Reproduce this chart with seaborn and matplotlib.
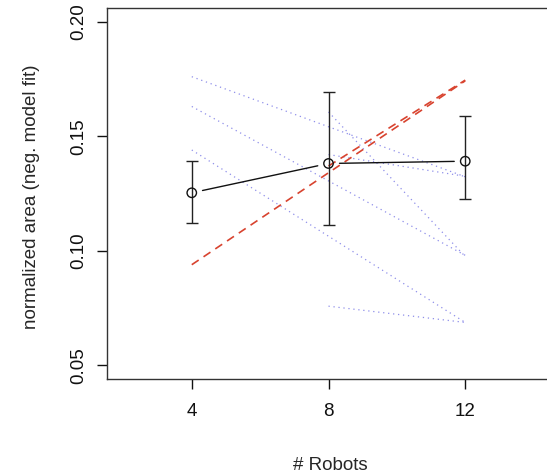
import matplotlib
matplotlib.use("Agg")
import matplotlib.pyplot as plt
import numpy as np
import pandas as pd
import seaborn as sns

# mean area per team size, with error bar limits
robots = [4, 8, 12]
mean_area = [0.1253, 0.1381, 0.1391]
err_low = [0.1120, 0.1112, 0.1226]
err_high = [0.1394, 0.1693, 0.1590]

# individual trend lines (blue dotted)
run_x = [[4, 12], [4, 12], [4, 12], [8, 12], [8, 12], [8, 12]]
run_y = [[0.176, 0.1323], [0.163, 0.098], [0.144, 0.0687],
         [0.1606, 0.0975], [0.142, 0.1325], [0.0758, 0.0687]]

# model fits (red dashed)
fit_x = [[4, 12], [8, 12]]
fit_y = [[0.0939, 0.1742], [0.137, 0.1745]]

sns.set_style("white")
plt.rcParams['font.family'] = ['Liberation Sans', 'DejaVu Sans']

runs = pd.DataFrame([(i, x, y) for i, (xs, ys) in enumerate(zip(run_x, run_y))
                     for x, y in zip(xs, ys)], columns=["run", "robots", "area"])
fits = pd.DataFrame([(i, x, y) for i, (xs, ys) in enumerate(zip(fit_x, fit_y))
                     for x, y in zip(xs, ys)], columns=["fit", "robots", "area"])
means = pd.DataFrame({"robots": robots, "area": mean_area})

fig = plt.figure(figsize=(5.47, 4.75), dpi=100)
ax = fig.add_axes([0.1956, 0.2021, 0.8099, 0.7811])
ax.set_xlim(1.52, 14.48)
ax.set_ylim(0.044, 0.206)

sns.lineplot(data=runs, x="robots", y="area", units="run", estimator=None,
             color="#7b7be6", alpha=0.85, lw=0.9, dashes=False, ax=ax,
             linestyle=(0, (1, 3)), legend=False)
sns.lineplot(data=fits, x="robots", y="area", units="fit", estimator=None,
             color="#d8432f", lw=1.2, dashes=False, ax=ax,
             linestyle=(0, (5, 3.5)), legend=False)

# error bars
yerr = [np.array(mean_area) - np.array(err_low), np.array(err_high) - np.array(mean_area)]
ax.errorbar(robots, mean_area, yerr=yerr, fmt="none", ecolor="#222222",
            elinewidth=1.0, capsize=4.3, capthick=1.0)

# connecting line with gaps around points (like R type="b")
pts = ax.transData.transform(np.column_stack([robots, mean_area]))
gap = 11
for p0, p1 in zip(pts[:-1], pts[1:]):
    d = (p1 - p0) / np.hypot(*(p1 - p0))
    seg = ax.transData.inverted().transform([p0 + d * gap, p1 - d * gap])
    ax.plot(seg[:, 0], seg[:, 1], color="#111111", lw=1.0)

sns.scatterplot(data=means, x="robots", y="area", marker="o", s=46,
                facecolor="none", edgecolor="#111111", linewidth=1.0, ax=ax, zorder=5)

ax.set_xticks(robots)
ax.set_xticklabels(["4", "8", "12"])
ax.set_yticks([0.05, 0.10, 0.15, 0.20])
ax.set_yticklabels(["0.05", "0.10", "0.15", "0.20"], rotation=90, va="center")
ax.tick_params(axis="both", direction="out", length=7.5, width=1.0,
               labelsize=13.5, colors="#111111", bottom=True, left=True)
ax.tick_params(axis="x", pad=9.5)
ax.tick_params(axis="y", pad=6.5)

for s in ax.spines.values():
    s.set_color("#333333")
    s.set_linewidth(1.0)

ax.set_xlabel("# Robots", fontsize=13.5)
ax.set_ylabel("normalized area (neg. model fit)", fontsize=13.5)
ax.xaxis.set_label_coords(0.505, -0.21)
ax.yaxis.set_label_coords(-0.152, 0.492)

fig.savefig("out.png", dpi=100)
